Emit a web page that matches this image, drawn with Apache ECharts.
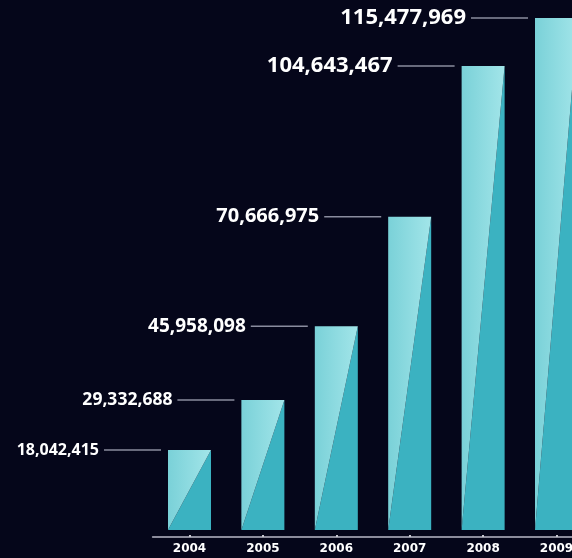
<!DOCTYPE html>
<html>
<head>
<meta charset="utf-8">
<script src="https://cdn.jsdelivr.net/npm/echarts@6/dist/echarts.min.js"></script>
<style>
  html, body { margin: 0; padding: 0; background: #05061a; }
  #chart { width: 572px; height: 558px; }
</style>
</head>
<body>
<div id="chart"></div>
<script>
const years = ['2004', '2005', '2006', '2007', '2008', '2009'];
const visitors = [18042415, 29332688, 45958098, 70666975, 104643467, 115477969];

const labelFontSizes = [16, 17.5, 19, 20, 22, 22];

function fmt(n) {
  return n.toString().replace(/\B(?=(\d{3})+(?!\d))/g, ',');
}

const chart = echarts.init(document.getElementById('chart'));

chart.setOption({
  backgroundColor: '#05061a',
  animation: false,
  grid: { left: 152.8, right: -21.2, top: 5, bottom: 21, containLabel: false, outerBoundsMode: 'none' },
  xAxis: {
    type: 'category',
    data: years,
    axisLine: { show: true, lineStyle: { color: '#8c8c9c', width: 2 } },
    axisTick: { show: true, alignWithLabel: true, inside: true, length: 2, lineStyle: { color: '#c8c8d0', width: 2 } },
    axisLabel: { color: '#ffffff', fontFamily: 'DejaVu Sans', fontWeight: 'bold', fontSize: 12, margin: 6, hideOverlap: false },
    splitLine: { show: false }
  },
  yAxis: {
    type: 'value',
    min: 0,
    max: 120000000,
    show: false,
    splitLine: { show: false }
  },
  series: [{
    type: 'custom',
    clip: false,
    data: visitors.map((v, i) => [i, v]),
    encode: { x: 0, y: 1 },
    renderItem: function (params, api) {
      const i = api.value(0);
      const v = api.value(1);
      const base = api.coord([i, 0]);
      const top = api.coord([i, v]);
      const w = 43, shift = 7;
      const x0 = base[0] - w / 2, x1 = base[0] + w / 2;
      const yb = base[1] - shift, yt = top[1] - shift;
      const lineEnd = x0 - 7, lineStart = lineEnd - 57;
      return {
        type: 'group',
        children: [
          {
            type: 'polygon',
            shape: { points: [[x0, yb], [x1, yt], [x1, yb]] },
            style: { fill: '#3bb2c1' }
          },
          {
            type: 'polygon',
            shape: { points: [[x0, yb], [x0, yt], [x1, yt]] },
            style: {
              fill: new echarts.graphic.LinearGradient(0, 0, 1, 0, [
                { offset: 0, color: '#7ad1d8' },
                { offset: 1, color: '#a2e5e9' }
              ])
            }
          },
          {
            type: 'line',
            shape: { x1: lineStart, y1: yt, x2: lineEnd, y2: yt },
            style: { stroke: '#8a8c9e', lineWidth: 1.5 }
          },
          {
            type: 'text',
            style: {
              text: fmt(v),
              x: lineStart - 5,
              y: yt,
              align: 'right',
              verticalAlign: 'middle',
              fill: '#ffffff',
              fontFamily: 'Open Sans',
              fontWeight: 'bold',
              fontSize: labelFontSizes[i]
            }
          }
        ]
      };
    }
  }]
});
</script>
</body>
</html>
